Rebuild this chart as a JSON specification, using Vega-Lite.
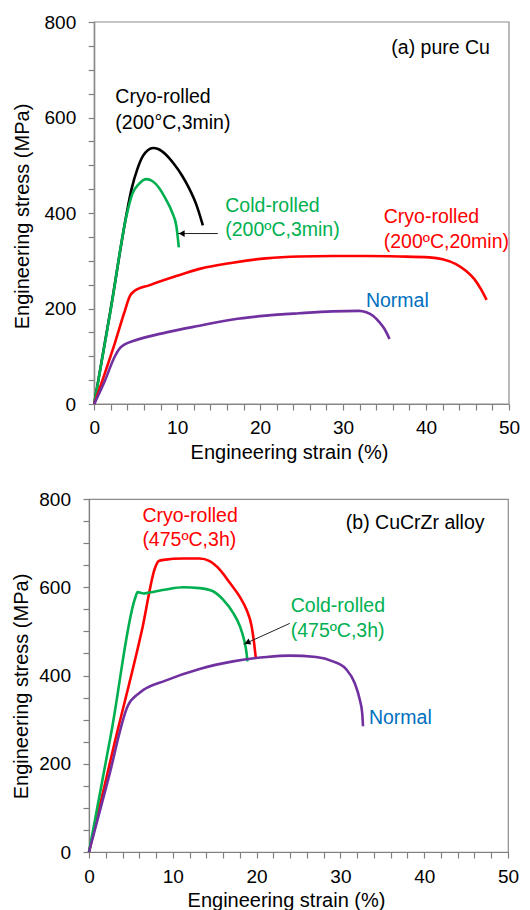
{
  "$schema": "https://vega.github.io/schema/vega-lite/v6.json",
  "background": "white",
  "padding": {"left": 10, "top": 13, "right": 5, "bottom": 5},
  "spacing": 27,
  "config": {
    "font": "Liberation Sans",
    "view": {"stroke": "#8c8c8c", "strokeWidth": 1.2},
    "axis": {
      "domainColor": "#7f7f7f", "tickColor": "#7f7f7f", "tickSize": 6, "domainWidth": 1.2, "tickWidth": 1.2,
      "labelFontSize": 19, "titleFontSize": 20, "titleFontWeight": "normal",
      "labelColor": "#000000", "titleColor": "#000000", "grid": false,
      "labelFont": "Liberation Sans", "titleFont": "Liberation Sans",
      "labelOverlap": false, "labelFlush": false, "tickCount": 100
    },
    "text": {"font": "Liberation Sans"}
  },
  "datasets": {
    "curvesA": [
      {"series": "Cryo-rolled (200°C,3min)", "strain": 0, "stress": 0},
      {"series": "Cryo-rolled (200°C,3min)", "strain": 2, "stress": 200},
      {"series": "Cryo-rolled (200°C,3min)", "strain": 3.9, "stress": 398},
      {"series": "Cryo-rolled (200°C,3min)", "strain": 4.5, "stress": 450},
      {"series": "Cryo-rolled (200°C,3min)", "strain": 5.2, "stress": 492},
      {"series": "Cryo-rolled (200°C,3min)", "strain": 5.9, "stress": 520},
      {"series": "Cryo-rolled (200°C,3min)", "strain": 6.5, "stress": 532},
      {"series": "Cryo-rolled (200°C,3min)", "strain": 7.1, "stress": 536},
      {"series": "Cryo-rolled (200°C,3min)", "strain": 7.7, "stress": 534},
      {"series": "Cryo-rolled (200°C,3min)", "strain": 8.6, "stress": 523},
      {"series": "Cryo-rolled (200°C,3min)", "strain": 9.6, "stress": 503},
      {"series": "Cryo-rolled (200°C,3min)", "strain": 10.6, "stress": 478},
      {"series": "Cryo-rolled (200°C,3min)", "strain": 11.4, "stress": 453},
      {"series": "Cryo-rolled (200°C,3min)", "strain": 12.3, "stress": 418},
      {"series": "Cryo-rolled (200°C,3min)", "strain": 13.1, "stress": 374},
      {"series": "Cold-rolled (200ºC,3min)", "strain": 0, "stress": 0},
      {"series": "Cold-rolled (200ºC,3min)", "strain": 2, "stress": 198},
      {"series": "Cold-rolled (200ºC,3min)", "strain": 3.9, "stress": 395},
      {"series": "Cold-rolled (200ºC,3min)", "strain": 4.6, "stress": 440},
      {"series": "Cold-rolled (200ºC,3min)", "strain": 5.4, "stress": 461},
      {"series": "Cold-rolled (200ºC,3min)", "strain": 6.3, "stress": 471},
      {"series": "Cold-rolled (200ºC,3min)", "strain": 7.0, "stress": 467},
      {"series": "Cold-rolled (200ºC,3min)", "strain": 7.8, "stress": 453},
      {"series": "Cold-rolled (200ºC,3min)", "strain": 8.6, "stress": 430},
      {"series": "Cold-rolled (200ºC,3min)", "strain": 9.4, "stress": 401},
      {"series": "Cold-rolled (200ºC,3min)", "strain": 9.9, "stress": 373},
      {"series": "Cold-rolled (200ºC,3min)", "strain": 10.2, "stress": 328},
      {"series": "Cryo-rolled (200ºC,20min)", "strain": 0, "stress": 0},
      {"series": "Cryo-rolled (200ºC,20min)", "strain": 1, "stress": 50},
      {"series": "Cryo-rolled (200ºC,20min)", "strain": 2.5, "stress": 128},
      {"series": "Cryo-rolled (200ºC,20min)", "strain": 3.6, "stress": 190},
      {"series": "Cryo-rolled (200ºC,20min)", "strain": 4.3, "stress": 226},
      {"series": "Cryo-rolled (200ºC,20min)", "strain": 4.8, "stress": 236},
      {"series": "Cryo-rolled (200ºC,20min)", "strain": 6.7, "stress": 249},
      {"series": "Cryo-rolled (200ºC,20min)", "strain": 9.9, "stress": 268},
      {"series": "Cryo-rolled (200ºC,20min)", "strain": 12.7, "stress": 283},
      {"series": "Cryo-rolled (200ºC,20min)", "strain": 16.7, "stress": 296},
      {"series": "Cryo-rolled (200ºC,20min)", "strain": 20.7, "stress": 305},
      {"series": "Cryo-rolled (200ºC,20min)", "strain": 24.7, "stress": 309},
      {"series": "Cryo-rolled (200ºC,20min)", "strain": 28.7, "stress": 310},
      {"series": "Cryo-rolled (200ºC,20min)", "strain": 32.8, "stress": 310},
      {"series": "Cryo-rolled (200ºC,20min)", "strain": 36.8, "stress": 309},
      {"series": "Cryo-rolled (200ºC,20min)", "strain": 40.4, "stress": 307},
      {"series": "Cryo-rolled (200ºC,20min)", "strain": 42.0, "stress": 303},
      {"series": "Cryo-rolled (200ºC,20min)", "strain": 43.6, "stress": 293},
      {"series": "Cryo-rolled (200ºC,20min)", "strain": 44.8, "stress": 279},
      {"series": "Cryo-rolled (200ºC,20min)", "strain": 45.8, "stress": 262},
      {"series": "Cryo-rolled (200ºC,20min)", "strain": 46.6, "stress": 241},
      {"series": "Cryo-rolled (200ºC,20min)", "strain": 47.3, "stress": 218},
      {"series": "Normal", "strain": 0, "stress": 0},
      {"series": "Normal", "strain": 1.2, "stress": 45},
      {"series": "Normal", "strain": 2.5, "stress": 100},
      {"series": "Normal", "strain": 3.1, "stress": 117},
      {"series": "Normal", "strain": 3.8, "stress": 126},
      {"series": "Normal", "strain": 4.7, "stress": 132},
      {"series": "Normal", "strain": 8.7, "stress": 150},
      {"series": "Normal", "strain": 12.7, "stress": 164},
      {"series": "Normal", "strain": 16.7, "stress": 177},
      {"series": "Normal", "strain": 20.7, "stress": 185},
      {"series": "Normal", "strain": 24.7, "stress": 190},
      {"series": "Normal", "strain": 28.7, "stress": 194},
      {"series": "Normal", "strain": 31.9, "stress": 195},
      {"series": "Normal", "strain": 32.8, "stress": 192},
      {"series": "Normal", "strain": 33.6, "stress": 185},
      {"series": "Normal", "strain": 34.4, "stress": 171},
      {"series": "Normal", "strain": 35.0, "stress": 157},
      {"series": "Normal", "strain": 35.6, "stress": 136}
    ],
    "labelsA": [
      {"series": "Cryo-rolled (200°C,3min)", "strain": 2.55, "stress": 642, "label": "Cryo-rolled"},
      {"series": "Cryo-rolled (200°C,3min)", "strain": 2.55, "stress": 589, "label": "(200°C,3min)"},
      {"series": "Cold-rolled (200ºC,3min)", "strain": 15.8, "stress": 415, "label": "Cold-rolled"},
      {"series": "Cold-rolled (200ºC,3min)", "strain": 15.8, "stress": 365, "label": "(200ºC,3min)"},
      {"series": "Cryo-rolled (200ºC,20min)", "strain": 34.9, "stress": 391, "label": "Cryo-rolled"},
      {"series": "Cryo-rolled (200ºC,20min)", "strain": 34.9, "stress": 340, "label": "(200ºC,20min)"},
      {"series": "Normal", "strain": 32.75, "stress": 216, "label": "Normal"}
    ],
    "panelA": [
      {"strain": 47.7, "stress": 745, "label": "(a) pure Cu"}
    ],
    "frameA": [
      {"x0": 0, "x1": 50, "y0": 0, "y1": 800}
    ],
    "arrowA": [
      {"strain": 14.9, "stress": 357, "tipStrain": 10.1, "tipStress": 357, "headStrain": 10.55, "headStress": 357}
    ],
    "curvesB": [
      {"series": "Cryo-rolled (475ºC,3h)", "strain": 0, "stress": 0},
      {"series": "Cryo-rolled (475ºC,3h)", "strain": 3, "stress": 243},
      {"series": "Cryo-rolled (475ºC,3h)", "strain": 6.4, "stress": 510},
      {"series": "Cryo-rolled (475ºC,3h)", "strain": 7.9, "stress": 645},
      {"series": "Cryo-rolled (475ºC,3h)", "strain": 8.3, "stress": 659},
      {"series": "Cryo-rolled (475ºC,3h)", "strain": 8.9, "stress": 662},
      {"series": "Cryo-rolled (475ºC,3h)", "strain": 11.2, "stress": 665},
      {"series": "Cryo-rolled (475ºC,3h)", "strain": 13.2, "stress": 665},
      {"series": "Cryo-rolled (475ºC,3h)", "strain": 14.4, "stress": 659},
      {"series": "Cryo-rolled (475ºC,3h)", "strain": 15.6, "stress": 640},
      {"series": "Cryo-rolled (475ºC,3h)", "strain": 16.8, "stress": 610},
      {"series": "Cryo-rolled (475ºC,3h)", "strain": 18.0, "stress": 578},
      {"series": "Cryo-rolled (475ºC,3h)", "strain": 18.8, "stress": 549},
      {"series": "Cryo-rolled (475ºC,3h)", "strain": 19.4, "stress": 512},
      {"series": "Cryo-rolled (475ºC,3h)", "strain": 19.7, "stress": 474},
      {"series": "Cryo-rolled (475ºC,3h)", "strain": 19.9, "stress": 440},
      {"series": "Cold-rolled (475ºC,3h)", "strain": 0, "stress": 0},
      {"series": "Cold-rolled (475ºC,3h)", "strain": 2.7, "stress": 275},
      {"series": "Cold-rolled (475ºC,3h)", "strain": 5.5, "stress": 575},
      {"series": "Cold-rolled (475ºC,3h)", "strain": 5.8, "stress": 589},
      {"series": "Cold-rolled (475ºC,3h)", "strain": 6.5, "stress": 586},
      {"series": "Cold-rolled (475ºC,3h)", "strain": 7.2, "stress": 588},
      {"series": "Cold-rolled (475ºC,3h)", "strain": 9.2, "stress": 595},
      {"series": "Cold-rolled (475ºC,3h)", "strain": 11.2, "stress": 600},
      {"series": "Cold-rolled (475ºC,3h)", "strain": 13.2, "stress": 598},
      {"series": "Cold-rolled (475ºC,3h)", "strain": 14.8, "stress": 591},
      {"series": "Cold-rolled (475ºC,3h)", "strain": 16.0, "stress": 572},
      {"series": "Cold-rolled (475ºC,3h)", "strain": 17.2, "stress": 542},
      {"series": "Cold-rolled (475ºC,3h)", "strain": 18.0, "stress": 512},
      {"series": "Cold-rolled (475ºC,3h)", "strain": 18.5, "stress": 481},
      {"series": "Cold-rolled (475ºC,3h)", "strain": 18.8, "stress": 451},
      {"series": "Cold-rolled (475ºC,3h)", "strain": 18.9, "stress": 432},
      {"series": "Normal", "strain": 0, "stress": 0},
      {"series": "Normal", "strain": 2.3, "stress": 165},
      {"series": "Normal", "strain": 4.65, "stress": 332},
      {"series": "Normal", "strain": 6.05, "stress": 361},
      {"series": "Normal", "strain": 9.2, "stress": 389},
      {"series": "Normal", "strain": 13.2, "stress": 415},
      {"series": "Normal", "strain": 17.2, "stress": 432},
      {"series": "Normal", "strain": 21.2, "stress": 442},
      {"series": "Normal", "strain": 23.9, "stress": 445},
      {"series": "Normal", "strain": 27.1, "stress": 442},
      {"series": "Normal", "strain": 29.1, "stress": 432},
      {"series": "Normal", "strain": 30.7, "stress": 414},
      {"series": "Normal", "strain": 31.7, "stress": 383},
      {"series": "Normal", "strain": 32.3, "stress": 346},
      {"series": "Normal", "strain": 32.6, "stress": 315},
      {"series": "Normal", "strain": 32.7, "stress": 285}
    ],
    "labelsB": [
      {"series": "Cryo-rolled (475ºC,3h)", "strain": 6.37, "stress": 761, "label": "Cryo-rolled"},
      {"series": "Cryo-rolled (475ºC,3h)", "strain": 6.37, "stress": 706, "label": "(475ºC,3h)"},
      {"series": "Cold-rolled (475ºC,3h)", "strain": 24.07, "stress": 557, "label": "Cold-rolled"},
      {"series": "Cold-rolled (475ºC,3h)", "strain": 24.07, "stress": 501, "label": "(475ºC,3h)"},
      {"series": "Normal", "strain": 33.4, "stress": 304, "label": "Normal"}
    ],
    "panelB": [
      {"strain": 47.2, "stress": 746, "label": "(b) CuCrZr alloy"}
    ],
    "arrowB": [
      {"strain": 23.95, "stress": 518, "tipStrain": 18.46, "tipStress": 470.7, "headStrain": 18.89, "headStress": 474.5}
    ]
  },
  "vconcat": [
    {
      "width": 421,
      "height": 382,
      "view": {"stroke": null},
      "resolve": {"scale": {"color": "independent"}},
      "layer": [
        {
          "data": {"name": "frameA"},
          "mark": {"type": "rect", "filled": false, "stroke": "#8c8c8c", "strokeWidth": 1.2},
          "encoding": {
            "x": {"field": "x0", "type": "quantitative"},
            "x2": {"field": "x1"},
            "y": {"field": "y0", "type": "quantitative"},
            "y2": {"field": "y1"}
          }
        },
        {
          "data": {"name": "curvesA"},
          "mark": {"type": "line", "strokeWidth": 2.6, "interpolate": "monotone"},
          "encoding": {
            "x": {"field": "strain", "type": "quantitative",
              "scale": {"domain": [0, 50], "nice": false, "zero": false, "range": [5.2, 420]},
              "axis": {"title": "Engineering strain (%)", "values": [0,2,4,6,8,10,12,14,16,18,20,22,24,26,28,30,32,34,36,38,40,42,44,46,48,50],
                "format": "d", "labelExpr": "datum.value % 10 === 0 ? datum.label : ''", "labelOverlap": false, "tickCount": 100, "labelBaseline": "middle", "labelPadding": 17,
                "titleX": 200, "titleY": 48, "titleBaseline": "middle", "titleAlign": "center"}},
            "y": {"field": "stress", "type": "quantitative",
              "scale": {"domain": [0, 800], "nice": false},
              "axis": {"title": "Engineering stress (MPa)", "values": [0,50,100,150,200,250,300,350,400,450,500,550,600,650,700,750,800],
                "format": "d", "labelExpr": "datum.value % 200 === 0 ? datum.label : ''", "labelOverlap": false, "tickCount": 100, "labelPadding": 12.5, "offset": -5.2,
                "titleX": -72, "titleY": 194, "titleBaseline": "middle", "titleAlign": "center", "titleAngle": 270}},
            "color": {"field": "series", "type": "nominal", "legend": null,
              "scale": {"domain": ["Cryo-rolled (200°C,3min)", "Cold-rolled (200ºC,3min)", "Cryo-rolled (200ºC,20min)", "Normal"],
                "range": ["#000000", "#00B050", "#FF0000", "#7030A0"]}}
          }
        },
        {
          "data": {"name": "labelsA"},
          "mark": {"type": "text", "fontSize": 19.5, "baseline": "middle", "align": "left"},
          "encoding": {
            "x": {"field": "strain", "type": "quantitative"},
            "y": {"field": "stress", "type": "quantitative"},
            "text": {"field": "label"},
            "color": {"field": "series", "type": "nominal", "legend": null,
              "scale": {"domain": ["Cryo-rolled (200°C,3min)", "Cold-rolled (200ºC,3min)", "Cryo-rolled (200ºC,20min)", "Normal"],
                "range": ["#000000", "#00B050", "#FF0000", "#0070C0"]}}
          }
        },
        {
          "data": {"name": "panelA"},
          "mark": {"type": "text", "fontSize": 19.5, "baseline": "middle", "align": "right", "color": "#000000"},
          "encoding": {
            "x": {"field": "strain", "type": "quantitative"},
            "y": {"field": "stress", "type": "quantitative"},
            "text": {"field": "label"}
          }
        },
        {
          "data": {"name": "arrowA"},
          "mark": {"type": "rule", "color": "#222222", "strokeWidth": 1},
          "encoding": {
            "x": {"field": "strain", "type": "quantitative"},
            "y": {"field": "stress", "type": "quantitative"},
            "x2": {"field": "tipStrain"},
            "y2": {"field": "tipStress"}
          }
        },
        {
          "data": {"name": "arrowA"},
          "mark": {"type": "point", "shape": "triangle-left", "filled": true, "color": "#000000", "size": 45, "opacity": 1, "angle": 0},
          "encoding": {
            "x": {"field": "headStrain", "type": "quantitative"},
            "y": {"field": "headStress", "type": "quantitative"}
          }
        }
      ]
    },
    {
      "width": 419,
      "height": 353,
      "resolve": {"scale": {"color": "independent"}},
      "layer": [
        {
          "data": {"name": "curvesB"},
          "mark": {"type": "line", "strokeWidth": 2.6, "interpolate": "monotone"},
          "encoding": {
            "x": {"field": "strain", "type": "quantitative",
              "scale": {"domain": [0, 50], "nice": false, "zero": false},
              "axis": {"title": "Engineering strain (%)", "values": [0,2,4,6,8,10,12,14,16,18,20,22,24,26,28,30,32,34,36,38,40,42,44,46,48,50],
                "format": "d", "labelExpr": "datum.value % 10 === 0 ? datum.label : ''", "labelOverlap": false, "tickCount": 100, "labelBaseline": "middle", "labelPadding": 18,
                "titleX": 197, "titleY": 48.5, "titleBaseline": "middle", "titleAlign": "center"}},
            "y": {"field": "stress", "type": "quantitative",
              "scale": {"domain": [0, 800], "nice": false},
              "axis": {"title": "Engineering stress (MPa)", "values": [0,50,100,150,200,250,300,350,400,450,500,550,600,650,700,750,800],
                "format": "d", "labelExpr": "datum.value % 200 === 0 ? datum.label : ''", "labelOverlap": false, "tickCount": 100, "labelPadding": 12.5,
                "titleX": -68, "titleY": 187, "titleBaseline": "middle", "titleAlign": "center", "titleAngle": 270}},
            "color": {"field": "series", "type": "nominal", "legend": null,
              "scale": {"domain": ["Cryo-rolled (475ºC,3h)", "Cold-rolled (475ºC,3h)", "Normal"],
                "range": ["#FF0000", "#00B050", "#7030A0"]}}
          }
        },
        {
          "data": {"name": "labelsB"},
          "mark": {"type": "text", "fontSize": 19.5, "baseline": "middle", "align": "left"},
          "encoding": {
            "x": {"field": "strain", "type": "quantitative"},
            "y": {"field": "stress", "type": "quantitative"},
            "text": {"field": "label"},
            "color": {"field": "series", "type": "nominal", "legend": null,
              "scale": {"domain": ["Cryo-rolled (475ºC,3h)", "Cold-rolled (475ºC,3h)", "Normal"],
                "range": ["#FF0000", "#00B050", "#0070C0"]}}
          }
        },
        {
          "data": {"name": "panelB"},
          "mark": {"type": "text", "fontSize": 19.5, "baseline": "middle", "align": "right", "color": "#000000"},
          "encoding": {
            "x": {"field": "strain", "type": "quantitative"},
            "y": {"field": "stress", "type": "quantitative"},
            "text": {"field": "label"}
          }
        },
        {
          "data": {"name": "arrowB"},
          "mark": {"type": "rule", "color": "#222222", "strokeWidth": 1},
          "encoding": {
            "x": {"field": "strain", "type": "quantitative"},
            "y": {"field": "stress", "type": "quantitative"},
            "x2": {"field": "tipStrain"},
            "y2": {"field": "tipStress"}
          }
        },
        {
          "data": {"name": "arrowB"},
          "mark": {"type": "point", "shape": "triangle-left", "filled": true, "color": "#000000", "size": 45, "opacity": 1, "angle": 336},
          "encoding": {
            "x": {"field": "headStrain", "type": "quantitative"},
            "y": {"field": "headStress", "type": "quantitative"}
          }
        }
      ]
    }
  ]
}
